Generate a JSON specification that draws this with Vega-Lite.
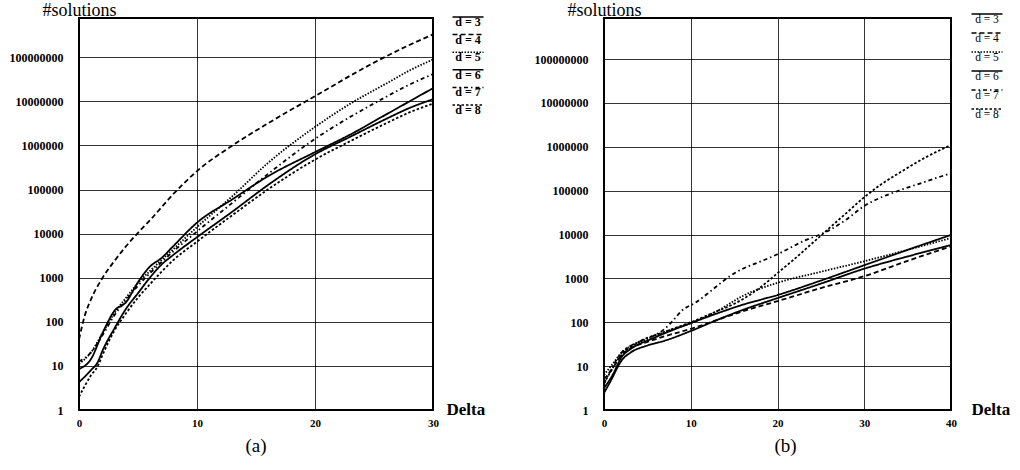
{
  "$schema": "https://vega.github.io/schema/vega-lite/v6.json",
  "padding": {"left": 8, "top": 0, "right": 5, "bottom": 5},
  "background": "white",
  "config": {
    "view": {"stroke": "#000", "strokeWidth": 2},
    "axis": {"ticks": false, "domain": false, "grid": true, "gridColor": "#000", "gridOpacity": 1, "gridWidth": 0.8,
      "labelFont": "Liberation Serif", "labelFontWeight": "bold", "labelColor": "#000", "labelFlush": false, "labelOverlap": false,
      "titleFont": "Liberation Serif", "titleColor": "#000"},
    "axisX": {"labelFontSize": 11, "labelPadding": 7, "titleFontSize": 17, "titleFontWeight": "bold", "titleAlign": "left", "titleBaseline": "middle", "titleAngle": 0, "titleX": 367, "titleY": -1},
    "axisY": {"labelFontSize": 12, "labelPadding": 16, "titleFontSize": 18, "titleFontWeight": "normal", "titleAngle": 0, "titleAlign": "center", "titleBaseline": "alphabetic", "titleX": 0, "titleY": -3},
    "title": {"font": "Liberation Serif", "fontSize": 19, "fontWeight": "normal", "orient": "bottom", "anchor": "middle", "frame": "group", "offset": 9, "color": "#000"},
    "legend": {"orient": "none", "symbolType": "M-3.1,0H3.1", "symbolSize": 100, "symbolStrokeWidth": 1.5, "symbolStrokeColor": "#000",
      "labelAlign": "center", "labelOffset": -6, "labelBaseline": "top", "labelFont": "Liberation Serif", "labelColor": "#000", "padding": 0}
  },
  "datasets": {
    "a": [
      {"d": "d = 4", "delta": 0, "n": 39.8}, {"d": "d = 4", "delta": 0.5, "n": 141}, {"d": "d = 4", "delta": 1, "n": 316}, {"d": "d = 4", "delta": 2, "n": 1000}, {"d": "d = 4", "delta": 3, "n": 2399}, {"d": "d = 4", "delta": 4, "n": 5248}, {"d": "d = 4", "delta": 5, "n": 10470}, {"d": "d = 4", "delta": 6, "n": 19950}, {"d": "d = 4", "delta": 8, "n": 79430}, {"d": "d = 4", "delta": 10, "n": 263000}, {"d": "d = 4", "delta": 13, "n": 1000000}, {"d": "d = 4", "delta": 16, "n": 3162000}, {"d": "d = 4", "delta": 20, "n": 13180000}, {"d": "d = 4", "delta": 25, "n": 75860000}, {"d": "d = 4", "delta": 28, "n": 190500000}, {"d": "d = 4", "delta": 30, "n": 331100000},
      {"d": "d = 5", "delta": 0, "n": 11.2}, {"d": "d = 5", "delta": 1, "n": 20}, {"d": "d = 5", "delta": 2, "n": 56.2}, {"d": "d = 5", "delta": 3, "n": 158}, {"d": "d = 5", "delta": 4, "n": 355}, {"d": "d = 5", "delta": 5, "n": 759}, {"d": "d = 5", "delta": 6, "n": 1413}, {"d": "d = 5", "delta": 8, "n": 4467}, {"d": "d = 5", "delta": 10, "n": 14130}, {"d": "d = 5", "delta": 13, "n": 70790}, {"d": "d = 5", "delta": 16, "n": 398100}, {"d": "d = 5", "delta": 20, "n": 2630000}, {"d": "d = 5", "delta": 23, "n": 8913000}, {"d": "d = 5", "delta": 26, "n": 25120000}, {"d": "d = 5", "delta": 28, "n": 50120000}, {"d": "d = 5", "delta": 30, "n": 89130000},
      {"d": "d = 7", "delta": 0, "n": 12.6}, {"d": "d = 7", "delta": 1, "n": 20}, {"d": "d = 7", "delta": 2, "n": 50.1}, {"d": "d = 7", "delta": 3, "n": 141}, {"d": "d = 7", "delta": 4, "n": 316}, {"d": "d = 7", "delta": 5, "n": 661}, {"d": "d = 7", "delta": 6, "n": 1259}, {"d": "d = 7", "delta": 8, "n": 3981}, {"d": "d = 7", "delta": 10, "n": 11220}, {"d": "d = 7", "delta": 13, "n": 50120}, {"d": "d = 7", "delta": 16, "n": 223900}, {"d": "d = 7", "delta": 20, "n": 1413000}, {"d": "d = 7", "delta": 23, "n": 4467000}, {"d": "d = 7", "delta": 26, "n": 12590000}, {"d": "d = 7", "delta": 28, "n": 23990000}, {"d": "d = 7", "delta": 30, "n": 41690000},
      {"d": "d = 3", "delta": 0, "n": 8.51}, {"d": "d = 3", "delta": 1, "n": 14.1}, {"d": "d = 3", "delta": 2, "n": 56.2}, {"d": "d = 3", "delta": 3, "n": 178}, {"d": "d = 3", "delta": 4, "n": 282}, {"d": "d = 3", "delta": 5, "n": 794}, {"d": "d = 3", "delta": 6, "n": 1778}, {"d": "d = 3", "delta": 7, "n": 2818}, {"d": "d = 3", "delta": 8, "n": 5248}, {"d": "d = 3", "delta": 10, "n": 17780}, {"d": "d = 3", "delta": 13, "n": 60260}, {"d": "d = 3", "delta": 16, "n": 199500}, {"d": "d = 3", "delta": 20, "n": 707900}, {"d": "d = 3", "delta": 23, "n": 1778000}, {"d": "d = 3", "delta": 26, "n": 5012000}, {"d": "d = 3", "delta": 28, "n": 10000000}, {"d": "d = 3", "delta": 30, "n": 19950000},
      {"d": "d = 6", "delta": 0, "n": 4.27}, {"d": "d = 6", "delta": 1, "n": 7.94}, {"d": "d = 6", "delta": 1.6, "n": 12.3}, {"d": "d = 6", "delta": 2, "n": 22.4}, {"d": "d = 6", "delta": 3, "n": 70.8}, {"d": "d = 6", "delta": 4, "n": 200}, {"d": "d = 6", "delta": 5, "n": 447}, {"d": "d = 6", "delta": 6, "n": 1000}, {"d": "d = 6", "delta": 7, "n": 1995}, {"d": "d = 6", "delta": 8, "n": 3311}, {"d": "d = 6", "delta": 10, "n": 8318}, {"d": "d = 6", "delta": 13, "n": 31620}, {"d": "d = 6", "delta": 16, "n": 125900}, {"d": "d = 6", "delta": 20, "n": 631000}, {"d": "d = 6", "delta": 23, "n": 1585000}, {"d": "d = 6", "delta": 26, "n": 3981000}, {"d": "d = 6", "delta": 28, "n": 7079000}, {"d": "d = 6", "delta": 30, "n": 11220000},
      {"d": "d = 8", "delta": 0, "n": 2.0}, {"d": "d = 8", "delta": 0.5, "n": 3.55}, {"d": "d = 8", "delta": 1, "n": 6.03}, {"d": "d = 8", "delta": 1.6, "n": 10}, {"d": "d = 8", "delta": 2, "n": 17.8}, {"d": "d = 8", "delta": 3, "n": 63.1}, {"d": "d = 8", "delta": 4, "n": 158}, {"d": "d = 8", "delta": 5, "n": 355}, {"d": "d = 8", "delta": 6, "n": 708}, {"d": "d = 8", "delta": 8, "n": 2512}, {"d": "d = 8", "delta": 10, "n": 6607}, {"d": "d = 8", "delta": 13, "n": 26300}, {"d": "d = 8", "delta": 16, "n": 100000}, {"d": "d = 8", "delta": 20, "n": 478600}, {"d": "d = 8", "delta": 23, "n": 1259000}, {"d": "d = 8", "delta": 26, "n": 3162000}, {"d": "d = 8", "delta": 28, "n": 5623000}, {"d": "d = 8", "delta": 30, "n": 8913000}
    ],
    "b": [
      {"d": "d = 3", "delta": 0, "n": 3.16}, {"d": "d = 3", "delta": 1, "n": 6.31}, {"d": "d = 3", "delta": 2, "n": 15.8}, {"d": "d = 3", "delta": 3, "n": 24.0}, {"d": "d = 3", "delta": 4, "n": 31.6}, {"d": "d = 3", "delta": 5, "n": 38.0}, {"d": "d = 3", "delta": 7, "n": 56.2}, {"d": "d = 3", "delta": 10, "n": 95.5}, {"d": "d = 3", "delta": 13, "n": 158}, {"d": "d = 3", "delta": 16, "n": 251}, {"d": "d = 3", "delta": 20, "n": 417}, {"d": "d = 3", "delta": 25, "n": 891}, {"d": "d = 3", "delta": 30, "n": 1995}, {"d": "d = 3", "delta": 35, "n": 4467}, {"d": "d = 3", "delta": 40, "n": 9772},
      {"d": "d = 6", "delta": 0, "n": 2.45}, {"d": "d = 6", "delta": 1, "n": 5.62}, {"d": "d = 6", "delta": 1.5, "n": 8.91}, {"d": "d = 6", "delta": 2, "n": 13.2}, {"d": "d = 6", "delta": 3, "n": 20}, {"d": "d = 6", "delta": 5, "n": 29.5}, {"d": "d = 6", "delta": 7, "n": 38.0}, {"d": "d = 6", "delta": 10, "n": 63.1}, {"d": "d = 6", "delta": 13, "n": 112}, {"d": "d = 6", "delta": 16, "n": 191}, {"d": "d = 6", "delta": 20, "n": 355}, {"d": "d = 6", "delta": 25, "n": 759}, {"d": "d = 6", "delta": 30, "n": 1660}, {"d": "d = 6", "delta": 35, "n": 3162}, {"d": "d = 6", "delta": 40, "n": 5754},
      {"d": "d = 4", "delta": 0, "n": 5.01}, {"d": "d = 4", "delta": 1, "n": 8.91}, {"d": "d = 4", "delta": 2, "n": 17.8}, {"d": "d = 4", "delta": 3, "n": 25.1}, {"d": "d = 4", "delta": 5, "n": 35.5}, {"d": "d = 4", "delta": 7, "n": 47.9}, {"d": "d = 4", "delta": 10, "n": 70.8}, {"d": "d = 4", "delta": 13, "n": 112}, {"d": "d = 4", "delta": 16, "n": 178}, {"d": "d = 4", "delta": 20, "n": 302}, {"d": "d = 4", "delta": 25, "n": 603}, {"d": "d = 4", "delta": 30, "n": 1122}, {"d": "d = 4", "delta": 35, "n": 2512}, {"d": "d = 4", "delta": 40, "n": 5370},
      {"d": "d = 5", "delta": 0, "n": 6.31}, {"d": "d = 5", "delta": 1, "n": 11.2}, {"d": "d = 5", "delta": 2, "n": 20}, {"d": "d = 5", "delta": 3, "n": 28.2}, {"d": "d = 5", "delta": 5, "n": 41.7}, {"d": "d = 5", "delta": 7, "n": 60.3}, {"d": "d = 5", "delta": 10, "n": 95.5}, {"d": "d = 5", "delta": 13, "n": 178}, {"d": "d = 5", "delta": 16, "n": 398}, {"d": "d = 5", "delta": 20, "n": 794}, {"d": "d = 5", "delta": 25, "n": 1413}, {"d": "d = 5", "delta": 30, "n": 2455}, {"d": "d = 5", "delta": 35, "n": 4467}, {"d": "d = 5", "delta": 40, "n": 8318},
      {"d": "d = 7", "delta": 0, "n": 3.98}, {"d": "d = 7", "delta": 2, "n": 20}, {"d": "d = 7", "delta": 4, "n": 35.5}, {"d": "d = 7", "delta": 6, "n": 52.5}, {"d": "d = 7", "delta": 7, "n": 70.8}, {"d": "d = 7", "delta": 8, "n": 112}, {"d": "d = 7", "delta": 9, "n": 186}, {"d": "d = 7", "delta": 10.5, "n": 275}, {"d": "d = 7", "delta": 12.5, "n": 550}, {"d": "d = 7", "delta": 14.5, "n": 1122}, {"d": "d = 7", "delta": 16, "n": 1660}, {"d": "d = 7", "delta": 18, "n": 2399}, {"d": "d = 7", "delta": 20, "n": 3548}, {"d": "d = 7", "delta": 23, "n": 7079}, {"d": "d = 7", "delta": 26, "n": 12590}, {"d": "d = 7", "delta": 28, "n": 22390}, {"d": "d = 7", "delta": 30, "n": 44670}, {"d": "d = 7", "delta": 32, "n": 70790}, {"d": "d = 7", "delta": 34, "n": 100000}, {"d": "d = 7", "delta": 37, "n": 158500}, {"d": "d = 7", "delta": 40, "n": 251200},
      {"d": "d = 8", "delta": 0, "n": 3.98}, {"d": "d = 8", "delta": 2, "n": 17.8}, {"d": "d = 8", "delta": 4, "n": 35.5}, {"d": "d = 8", "delta": 7, "n": 60.3}, {"d": "d = 8", "delta": 10, "n": 100}, {"d": "d = 8", "delta": 13, "n": 178}, {"d": "d = 8", "delta": 15, "n": 263}, {"d": "d = 8", "delta": 17, "n": 447}, {"d": "d = 8", "delta": 19, "n": 891}, {"d": "d = 8", "delta": 20, "n": 1318}, {"d": "d = 8", "delta": 22, "n": 2818}, {"d": "d = 8", "delta": 24, "n": 6310}, {"d": "d = 8", "delta": 26, "n": 14130}, {"d": "d = 8", "delta": 28, "n": 31620}, {"d": "d = 8", "delta": 30, "n": 70790}, {"d": "d = 8", "delta": 32, "n": 141300}, {"d": "d = 8", "delta": 34, "n": 251200}, {"d": "d = 8", "delta": 37, "n": 562300}, {"d": "d = 8", "delta": 40, "n": 1096000}
    ]
  },
  "bounds": "flush",
  "spacing": 171,
  "resolve": {"scale": {"strokeDash": "independent"}, "legend": {"strokeDash": "independent"}},
  "hconcat": [
    {
      "width": 354,
      "height": 392,
      "data": {"name": "a"},
      "title": {"text": "(a)"},
      "mark": {"type": "line", "color": "#000", "strokeWidth": 1.8, "clip": true, "interpolate": "monotone"},
      "encoding": {
        "x": {"field": "delta", "type": "quantitative", "scale": {"domain": [0, 30], "nice": false, "zero": false},
          "axis": {"title": "Delta", "values": [0, 10, 20, 30]}},
        "y": {"field": "n", "type": "quantitative", "scale": {"type": "log", "domain": [1, 780000000], "nice": false},
          "axis": {"title": "#solutions", "values": [1, 10, 100, 1000, 10000, 100000, 1000000, 10000000, 100000000], "format": "d"}},
        "strokeDash": {"field": "d", "type": "nominal",
          "scale": {"domain": ["d = 3", "d = 4", "d = 5", "d = 6", "d = 7", "d = 8"],
            "range": [[1, 0], [5, 3], [1.5, 1.5], [1, 0], [4, 3, 1.5, 3], [2.5, 2]]},
          "legend": {"title": null, "legendX": 383, "legendY": -7, "rowPadding": 0.6, "labelFontSize": 12, "labelFontWeight": "bold"}}
      }
    },
    {
      "width": 347,
      "height": 392,
      "data": {"name": "b"},
      "title": {"text": "(b)", "dx": 8},
      "mark": {"type": "line", "color": "#000", "strokeWidth": 1.8, "clip": true, "interpolate": "monotone"},
      "encoding": {
        "x": {"field": "delta", "type": "quantitative", "scale": {"domain": [0, 40], "nice": false, "zero": false},
          "axis": {"title": "Delta", "values": [0, 10, 20, 30, 40]}},
        "y": {"field": "n", "type": "quantitative", "scale": {"type": "log", "domain": [1, 860000000], "nice": false},
          "axis": {"title": "#solutions", "values": [1, 10, 100, 1000, 10000, 100000, 1000000, 10000000, 100000000], "format": "d"}},
        "strokeDash": {"field": "d", "type": "nominal",
          "scale": {"domain": ["d = 3", "d = 4", "d = 5", "d = 6", "d = 7", "d = 8"],
            "range": [[1, 0], [5, 3], [1.5, 1.5], [1, 0], [4, 3, 1.5, 3], [2.5, 2]]},
          "legend": {"title": null, "legendX": 377, "legendY": -10, "rowPadding": 1, "labelFontSize": 11.5, "labelFontWeight": "normal"}}
      }
    }
  ]
}
